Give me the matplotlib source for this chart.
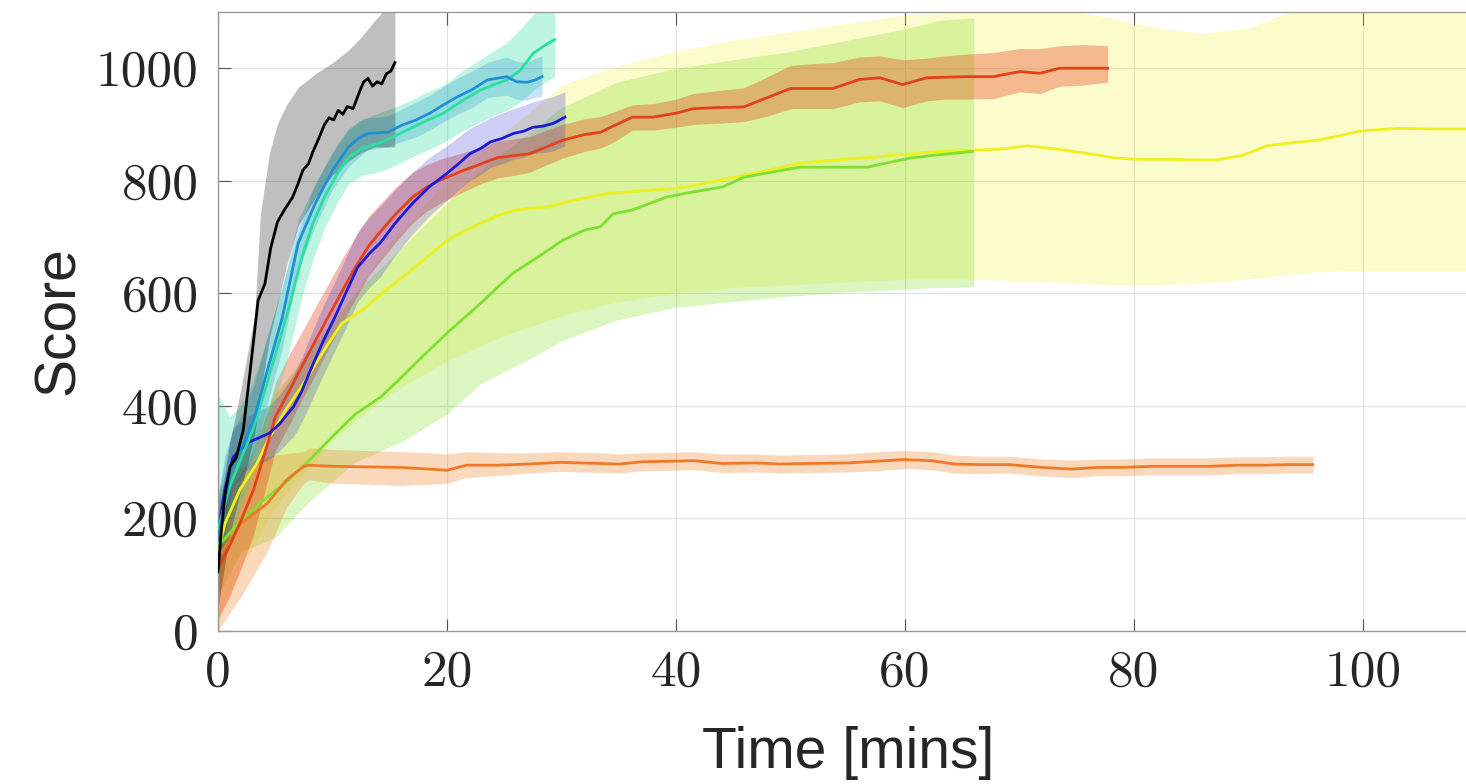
import matplotlib
matplotlib.use("Agg")
import matplotlib.pyplot as plt

# ---------------- data ----------------
x_ticks = [0, 20, 40, 60, 80, 100]
y_ticks = [0, 200, 400, 600, 800, 1000]
x_label = "Time [mins]"
y_label = "Score"

# black series
black_t = [0, 0.3, 0.6, 1.05, 1.6, 2.2, 2.8, 3.5, 4.1, 4.6, 5.2, 5.8, 6.5, 7.0, 7.4, 7.9, 8.3, 8.8,
           9.3, 9.7, 10.1, 10.5, 10.9, 11.3, 11.8, 12.3, 12.7, 13.1, 13.5, 13.9, 14.3, 14.7, 15.1, 15.45]
black_y = [105, 180, 240, 291, 308, 356, 460, 587, 617, 680, 727, 748, 770, 795, 818, 830, 852, 875,
           900, 912, 908, 925, 918, 932, 928, 955, 975, 982, 968, 976, 972, 990, 995, 1010]
black_band_t = [0, 1, 2, 3.2, 3.7, 4.5, 5.2, 6, 7, 8.5, 10, 11.4, 12.5, 13.7, 14.8, 15.45]
black_hi = [200, 330, 430, 560, 740, 850, 902, 935, 966, 990, 1010, 1032, 1055, 1085, 1110, 1130]
black_lo = [40, 170, 250, 350, 420, 520, 580, 650, 720, 770, 810, 835, 850, 860, 860, 860]

# cerulean series
cyan_t = [0, 0.6, 1.2, 2.4, 3.2, 4.4, 5.6, 7, 8.5, 10, 11.4, 12.3, 13.1, 14.8, 16.1, 17.3, 18.5,
          19.7, 20.9, 22.2, 23.5, 25.2, 26.1, 27.0, 27.7, 28.3]
cyan_y = [160, 230, 291, 338, 380, 469, 555, 689, 760, 818, 860, 876, 884, 886, 899, 908, 920,
          935, 949, 962, 979, 985, 976, 975, 979, 985]
cyan_hi = [230, 300, 350, 400, 440, 530, 610, 730, 795, 850, 890, 905, 912, 915, 928, 940, 952,
           968, 982, 995, 1010, 1020, 1012, 1010, 1018, 1022]
cyan_lo = [100, 170, 230, 280, 320, 410, 500, 640, 720, 785, 825, 842, 855, 860, 870, 878, 890,
           905, 918, 930, 948, 952, 945, 943, 948, 950]

# spring-green series
spring_t = [0, 1, 2, 3, 4, 5, 6, 7.3, 8.3, 9.3, 10.4, 11.4, 12.6, 14, 15.3, 16.5, 18, 19.7, 21.3,
            22.9, 24, 25.2, 26.4, 27.5, 28.5, 29.4]
spring_y = [180, 255, 305, 355, 420, 490, 560, 662, 725, 771, 812, 842, 858, 866, 878, 890, 905, 920,
            942, 961, 970, 979, 996, 1026, 1040, 1051]
spring_hi = [420, 380, 400, 440, 500, 570, 640, 725, 785, 825, 865, 893, 910, 920, 930, 940, 955, 970,
             995, 1015, 1030, 1045, 1070, 1095, 1110, 1120]
spring_lo = [100, 160, 220, 280, 340, 410, 480, 590, 660, 715, 760, 795, 810, 815, 825, 838, 852, 868,
             888, 905, 915, 925, 940, 960, 975, 985]

# blue series
blue_t = [0, 0.6, 1.3, 2.5, 3.5, 4.5, 5.4, 6.1, 6.6, 7.3, 8.2, 9.2, 10.2, 11.2, 12.2, 13.2, 14.2, 15.5,
          17, 18.5, 20, 21, 22, 23, 23.8, 24.8, 25.8, 26.7, 27.5, 28.4, 29.3, 30.3]
blue_y = [173, 250, 308, 333, 342, 351, 368, 386, 398, 425, 469, 515, 557, 602, 646, 670, 690, 725,
          760, 790, 813, 830, 848, 858, 869, 875, 884, 888, 895, 897, 902, 913]
blue_hi = [240, 310, 360, 380, 390, 400, 420, 440, 455, 485, 530, 578, 620, 665, 710, 735, 755, 785,
           815, 842, 862, 878, 893, 903, 912, 920, 928, 934, 940, 945, 950, 958]
blue_lo = [110, 190, 255, 285, 295, 305, 320, 335, 345, 370, 410, 455, 497, 540, 585, 610, 630, 668,
           705, 738, 765, 783, 800, 812, 824, 830, 838, 842, 848, 850, 853, 862]

# red series
red_t = [0, 1, 2, 3.1, 4.5, 5, 6.2, 7.3, 8.5, 9.6, 10.8, 12, 13.2, 14.3, 15.5, 17, 18.2, 19.4, 21.4, 23,
         24.4, 26, 27.2, 28.7, 30.1, 32, 33.4, 34.5, 36.2, 38, 40, 41.5, 43.5, 45.9, 48, 50, 51.8, 53.7,
         56, 57.8, 59.8, 61.9, 63.5, 65.4, 67.7, 70, 71.8, 73.5, 75.5, 77.7]
red_y = [110, 150, 195, 250, 344, 380, 425, 469, 515, 557, 602, 646, 685, 712, 740, 771, 788, 801, 818, 830,
         841, 845, 848, 860, 872, 882, 886, 897, 913, 913, 920, 928, 930, 931, 948, 964, 964, 964,
         980, 983, 971, 983, 984, 985, 985, 994, 991, 1000, 1000, 1000]
red_hi = [230, 250, 280, 320, 400, 440, 490, 530, 575, 615, 660, 700, 738, 762, 788, 815, 828, 838, 850, 860,
          870, 875, 878, 890, 900, 910, 914, 922, 935, 937, 945, 955, 960, 965, 985, 1005, 1008, 1010,
          1020, 1022, 1015, 1018, 1022, 1025, 1028, 1035, 1035, 1040, 1042, 1040]
red_lo = [20, 60, 110, 170, 280, 320, 365, 410, 455, 500, 545, 590, 632, 660, 690, 725, 745, 760, 780, 795,
          805, 810, 815, 828, 840, 852, 858, 868, 890, 890, 895, 900, 902, 905, 915, 928, 928, 928,
          940, 942, 930, 942, 945, 945, 946, 958, 955, 968, 970, 975]

# yellow series
yellow_t = [0, 0.6, 1.9, 3.4, 4.5, 6, 7.5, 9, 10.8, 12.6, 14.3, 15.7, 17.2, 18.6, 20, 21.5, 22.9, 24.3,
            25.8, 27.2, 28.7, 31, 34, 37, 40.3, 42.5, 45, 48, 50.8, 53.5, 56.7, 59.5, 62.4, 65.4, 68.3,
            70.7, 72.5, 74.1, 76, 78.5, 80.5, 82.9, 85, 87.2, 89.5, 91.6, 94, 96, 98, 99.7, 101.5, 103.2,
            106, 110]
yellow_y = [140, 190, 250, 297, 344, 395, 440, 490, 546, 570, 599, 622, 646, 670, 694, 710, 724, 737,
            747, 751, 753, 765, 777, 782, 787, 795, 806, 818, 831, 836, 841, 846, 851, 854, 856,
            862, 858, 854, 848, 840, 838, 838, 837, 837, 845, 862, 868, 872, 880, 888, 891, 893,
            892, 892]
yellow_band_t = [0, 2, 5, 10, 15, 20, 25, 30, 35, 40, 45, 50, 55, 60, 65, 70, 75, 78, 82, 86, 90, 93,
                 96, 100, 105, 110]
yellow_hi = [220, 300, 420, 540, 690, 800, 885, 970, 1005, 1030, 1050, 1065, 1080, 1095, 1100, 1105,
             1100, 1090, 1072, 1062, 1072, 1095, 1120, 1150, 1150, 1150]
yellow_lo = [20, 110, 220, 340, 420, 480, 525, 560, 585, 600, 610, 615, 620, 625, 625, 622, 618, 615,
             615, 618, 625, 632, 638, 640, 640, 640]

# yellow-green series
green_t = [0, 2, 4, 6, 7.7, 10, 12, 14.2, 16, 18, 20, 22, 23.2, 24.5, 25.8, 28, 30.1, 32, 33.4, 34.5,
           36.2, 39.2, 41.5, 44.1, 45.9, 48, 50.8, 53.5, 56.7, 58.5, 60.4, 62, 63.9, 65.9]
green_y = [150, 195, 232, 265, 297, 345, 385, 415, 450, 490, 529, 565, 587, 612, 636, 665, 694, 712, 718,
           741, 748, 771, 780, 789, 806, 814, 824, 824, 824, 832, 840, 844, 848, 852]
green_band_t = [0, 2, 5, 8, 12, 16, 20, 23, 27.5, 30, 34.8, 40, 45, 50, 55, 60, 63, 66]
green_hi = [250, 330, 420, 500, 600, 680, 760, 820, 890, 930, 975, 1000, 1015, 1030, 1050, 1070, 1085, 1090]
green_lo = [60, 140, 165, 230, 300, 335, 385, 440, 486, 515, 552, 575, 585, 595, 602, 607, 610, 611]

# orange series
orange_t = [0, 2, 4.3, 6, 7.5, 8, 10, 13, 16, 18.5, 20, 21.7, 24.6, 27, 29.9, 33.4, 35.1, 37, 39.6, 41.6,
            44, 47, 49, 51.7, 55, 57.5, 59.9, 62.3, 64.3, 66.5, 69.1, 72, 74.5, 76.8, 79, 81.6, 84, 86.5,
            89, 91.3, 93.5, 95.6]
orange_y = [130, 190, 226, 268, 292, 294, 292, 291, 290, 287, 285, 294, 294, 296, 299, 297, 296, 300, 301,
            302, 297, 298, 296, 297, 298, 301, 304, 302, 296, 295, 295, 290, 287, 290, 290, 292, 292, 292,
            294, 294, 295, 295]
orange_hi = [250, 290, 310, 315, 318, 325, 322, 320, 318, 316, 314, 318, 316, 316, 318, 316, 314, 316, 317,
             318, 314, 314, 312, 313, 314, 318, 320, 318, 312, 310, 310, 305, 303, 305, 305, 307, 307, 307,
             309, 309, 310, 310]
orange_lo = [0, 60, 140, 220, 262, 268, 262, 260, 258, 260, 262, 272, 276, 280, 283, 281, 280, 284, 285,
             286, 281, 282, 280, 281, 282, 284, 288, 286, 280, 279, 280, 275, 272, 275, 275, 277, 277, 277,
             279, 279, 280, 280]

# ---------------- figure ----------------
W, H = 1466, 784
fig = plt.figure(figsize=(W / 100, H / 100), dpi=100)
ax_left, ax_right, ax_top, ax_bot = 218, 1477.5, 12, 630.5
ax = fig.add_axes([ax_left / W, 1 - ax_bot / H, (ax_right - ax_left) / W, (ax_bot - ax_top) / H])

ax.set_xlim(0, 110)
ax.set_ylim(0, 1100)

bands = [
    (yellow_band_t, yellow_lo, yellow_hi, "#f0f020", 0.23),
    (green_band_t, green_lo, green_hi, "#80e020", 0.28),
    (orange_t, orange_lo, orange_hi, "#f08020", 0.30),
    (red_t, red_lo, red_hi, "#e8401c", 0.35),
    (blue_t, blue_lo, blue_hi, "#2020d8", 0.22),
    (spring_t, spring_lo, spring_hi, "#25e0a0", 0.30),
    (cyan_t, cyan_lo, cyan_hi, "#1f8fd6", 0.25),
    (black_band_t, black_lo, black_hi, "#000000", 0.25),
]
for bt, lo, hi, c, a in bands:
    ax.fill_between(bt, lo, hi, color=c, alpha=a, lw=0, zorder=2)

lines = [
    (yellow_t, yellow_y, "#eef020"),
    (green_t, green_y, "#7ee030"),
    (orange_t, orange_y, "#ee7a28"),
    (red_t, red_y, "#e4411b"),
    (blue_t, blue_y, "#1a1ad8"),
    (spring_t, spring_y, "#28e0a0"),
    (cyan_t, cyan_y, "#1f8fd6"),
    (black_t, black_y, "#000000"),
]
for t, y, c in lines:
    ax.plot(t, y, color=c, lw=2.0, zorder=3, solid_joinstyle="round")

ax.set_xticks(x_ticks)
ax.set_yticks(y_ticks)
ax.set_xticklabels([str(v) for v in x_ticks], family="cmr10", fontsize=37)
ax.set_yticklabels([str(v) for v in y_ticks], family="cmr10", fontsize=37)
ax.tick_params(direction="in", length=9, width=0.8, color="#555555",
               top=True, right=True, labelcolor="#262626")
ax.tick_params(axis="x", pad=14)
ax.tick_params(axis="y", pad=14)

ax.grid(True, color="#e2e2e2", lw=0.9)
ax.set_axisbelow(True)
for s in ax.spines.values():
    s.set_color("#9a9a9a")
    s.set_linewidth(1.0)

fig.text((ax_left + ax_right) / 2 / W, 1 - 768 / H, x_label, ha="center", va="baseline",
         family="Liberation Sans", fontsize=41, color="#262626")
fig.text(59 / W, 1 - 321 / H, y_label, ha="center", va="center", rotation=90,
         family="Liberation Sans", fontsize=41, color="#262626")

fig.savefig("out.png", dpi=100)
